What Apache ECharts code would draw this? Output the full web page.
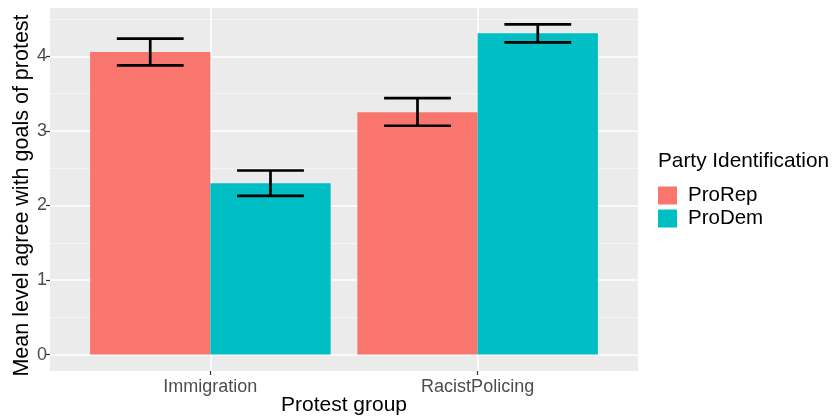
<!DOCTYPE html>
<html>
<head>
<meta charset="utf-8">
<script src="https://cdn.jsdelivr.net/npm/echarts@6/dist/echarts.min.js"></script>
<style>
html,body{margin:0;padding:0;background:#fff;}
#chart{width:835px;height:420px;}
</style>
</head>
<body>
<div id="chart"></div>
<script>
// ---- data ----
const categories = ['Immigration', 'RacistPolicing'];
const groups = ['ProRep', 'ProDem'];
const proRepMean = [4.06, 3.25];
const proRepLow  = [3.88, 3.07];
const proRepHigh = [4.24, 3.44];
const proDemMean = [2.30, 4.31];
const proDemLow  = [2.13, 4.19];
const proDemHigh = [2.47, 4.43];
const yTicks = [0, 1, 2, 3, 4];
const yMinorTicks = [0.5, 1.5, 2.5, 3.5, 4.5];

// ---- layout constants ----
const colors = ['#F8766D', '#00BFC4'];
const DODGE = 0.9;               // total dodge width
const BAR_W = DODGE / 2;         // each bar width (axis units)
const CAP_W = 0.25;              // error bar cap width (axis units)
const offsets = [-BAR_W / 2, BAR_W / 2];
const catPos = categories.map((c, i) => i + 1);

function barRender(offset, color) {
  return function (params, api) {
    const x = api.value(0) + offset;
    const y = api.value(1);
    const p0 = api.coord([x - BAR_W / 2, y]);
    const p1 = api.coord([x + BAR_W / 2, 0]);
    return {
      type: 'rect',
      shape: { x: p0[0], y: p0[1], width: p1[0] - p0[0], height: p1[1] - p0[1] },
      style: { fill: color }
    };
  };
}
function errRender(offset) {
  return function (params, api) {
    const x = api.value(0) + offset;
    const lo = api.value(1), hi = api.value(2);
    const a = api.coord([x - CAP_W / 2, hi]);
    const b = api.coord([x + CAP_W / 2, lo]);
    const c = api.coord([x, hi]);
    const style = { stroke: '#000', lineWidth: 2.7 };
    return {
      type: 'group',
      children: [
        { type: 'line', shape: { x1: a[0], y1: a[1], x2: b[0], y2: a[1] }, style },
        { type: 'line', shape: { x1: a[0], y1: b[1], x2: b[0], y2: b[1] }, style },
        { type: 'line', shape: { x1: c[0], y1: a[1], x2: c[0], y2: b[1] }, style }
      ]
    };
  };
}

const means = [proRepMean, proDemMean];
const lows = [proRepLow, proDemLow];
const highs = [proRepHigh, proDemHigh];

const series = [];
groups.forEach((g, gi) => {
  series.push({
    name: g, type: 'custom', xAxisIndex: 0, yAxisIndex: 0,
    itemStyle: { color: colors[gi] },
    renderItem: barRender(offsets[gi], colors[gi]),
    encode: { x: 0, y: 1 },
    data: catPos.map((p, i) => [p, means[gi][i]]),
    silent: true, z: 2
  });
});
groups.forEach((g, gi) => {
  series.push({
    name: g + ' CI', type: 'custom', xAxisIndex: 0, yAxisIndex: 0,
    renderItem: errRender(offsets[gi]),
    encode: { x: 0, y: [1, 2] },
    data: catPos.map((p, i) => [p, lows[gi][i], highs[gi][i]]),
    silent: true, z: 3
  });
});

const chart = echarts.init(document.getElementById('chart'), null, { renderer: 'canvas' });
const FONT = 'Liberation Sans, Arial, sans-serif';
chart.setOption({
  animation: false,
  textStyle: { fontFamily: FONT },
  title: {
    text: 'Party Identification',
    left: 658, top: 151,
    padding: 0,
    textStyle: { fontSize: 20.8, fontWeight: 'normal', color: '#000', fontFamily: FONT }
  },
  legend: {
    data: groups,
    orient: 'vertical',
    left: 658, top: 185,
    padding: 0,
    itemWidth: 19, itemHeight: 18, itemGap: 2,
    icon: 'rect',
    selectedMode: false,
    textStyle: { fontSize: 20.5, color: '#000', lineHeight: 18, padding: [0, 0, 0, 6], fontFamily: FONT }
  },
  grid: {
    left: 50, top: 8, width: 588, height: 363,
    show: true, backgroundColor: '#EBEBEB', borderWidth: 0,
    containLabel: false,
    outerBoundsMode: 'none'
  },
  xAxis: {
    type: 'value', min: 0.4, max: 2.6,
    axisLine: { show: false, onZero: false },
    axisTick: { show: true, inside: false, customValues: catPos, length: 4, lineStyle: { color: '#333333', width: 1.2 } },
    axisLabel: {
      customValues: catPos,
      formatter: v => categories[Math.round(v) - 1],
      color: '#4D4D4D', fontSize: 18, margin: 7, fontFamily: FONT
    },
    splitLine: { show: true, lineStyle: { color: '#FFFFFF', width: 1.5 } },
    name: 'Protest group', nameLocation: 'middle', nameGap: 24, nameMoveOverlap: false,
    nameTextStyle: { fontSize: 21, color: '#000', fontFamily: FONT }
  },
  yAxis: [
    {
      type: 'value', min: -0.22, max: 4.65,
      axisLine: { show: false, onZero: false },
      axisTick: { show: true, inside: false, customValues: yTicks, length: 4, lineStyle: { color: '#333333', width: 1.2 } },
      axisLabel: { customValues: yTicks, color: '#4D4D4D', fontSize: 18, margin: 3, fontFamily: FONT },
      splitLine: { show: true, lineStyle: { color: '#FFFFFF', width: 1.5 } },
      name: 'Mean level agree with goals of protest', nameLocation: 'middle', nameGap: 17, nameMoveOverlap: false,
      nameTextStyle: { fontSize: 21.5, color: '#000', fontFamily: FONT, padding: [0, 12, 0, 0] }
    },
    {
      type: 'value', min: -0.22, max: 4.65,
      axisLine: { show: false, onZero: false },
      axisTick: { show: false, customValues: yMinorTicks },
      axisLabel: { show: false, customValues: yMinorTicks },
      splitLine: { show: true, lineStyle: { color: '#F7F7F7', width: 0.8 } }
    }
  ],
  series: series
});
</script>
</body>
</html>
